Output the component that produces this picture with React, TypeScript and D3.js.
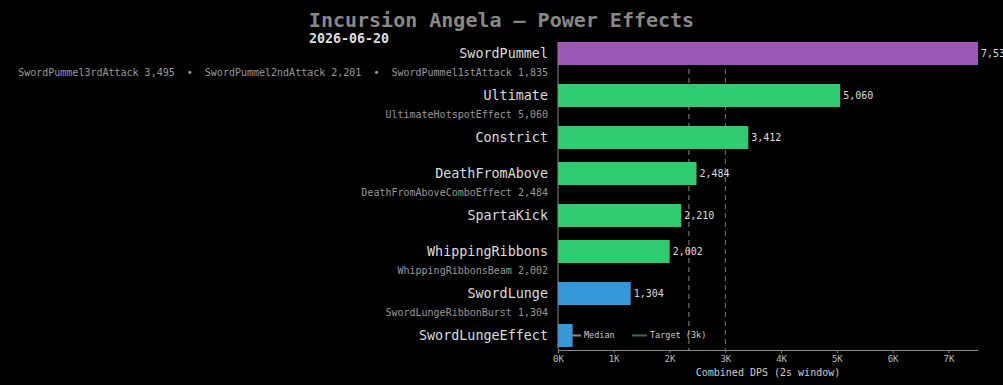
import React, { useEffect, useRef } from 'react';
import * as d3 from 'd3';

const powers = [
  'SwordPummel',
  'Ultimate',
  'Constrict',
  'DeathFromAbove',
  'SpartaKick',
  'WhippingRibbons',
  'SwordLunge',
  'SwordLungeEffect',
];
const dps = [7531, 5060, 3412, 2484, 2210, 2002, 1304, 262];
const groups = ['melee', 'power', 'power', 'power', 'power', 'power', 'lunge', 'lunge'];
const subEffects: string[][] = [
  ['SwordPummel3rdAttack 3,495', 'SwordPummel2ndAttack 2,201', 'SwordPummel1stAttack 1,835'],
  ['UltimateHotspotEffect 5,060'],
  [],
  ['DeathFromAboveComboEffect 2,484'],
  [],
  ['WhippingRibbonsBeam 2,002'],
  ['SwordLungeRibbonBurst 1,304'],
  [],
];
const xTicks = [0, 1000, 2000, 3000, 4000, 5000, 6000, 7000];
const target = 3000;

const groupColor: Record<string, string> = {
  melee: '#9b59b6',
  power: '#2ecc71',
  lunge: '#3498db',
};

const FONT = '"DejaVu Sans Mono", monospace';

const PowerChart = () => {
  const ref = useRef<SVGSVGElement>(null);

  useEffect(() => {
    const width = 1003;
    const height = 385;
    const margin = { top: 42, right: 25, bottom: 35, left: 558 };
    const barH = 23;

    const svg = d3.select(ref.current);
    svg.selectAll('*').remove();

    svg.append('rect').attr('width', width).attr('height', height).attr('fill', '#000');

    // rows with sub-effect lines get a little more room
    const steps = subEffects.map(s => 36 + (s.length ? 6 : 0));
    const offsets = [0, ...Array.from(d3.cumsum(steps)).slice(0, -1)];
    const y = d3.scaleLinear().domain([0, 1]).range([margin.top + barH / 2, margin.top + barH / 2 + 1]);
    const rowY = (i: number) => y(offsets[i]);

    const axisY = height - margin.bottom;
    const x = d3.scaleLinear()
      .domain([0, d3.max(dps) as number])
      .range([margin.left, width - margin.right]);

    // title
    svg.append('text')
      .attr('x', width / 2).attr('y', 27)
      .attr('text-anchor', 'middle')
      .attr('font-family', FONT).attr('font-size', 20).attr('font-weight', 'bold')
      .attr('fill', '#888')
      .text('Incursion Angela — Power Effects');
    svg.append('text')
      .attr('x', 309).attr('y', 43)
      .attr('font-family', FONT).attr('font-size', 13.3).attr('font-weight', 'bold')
      .attr('fill', '#ddd')
      .text('2026-06-20');

    // reference lines
    const med = d3.median(dps) as number;
    svg.append('line')
      .attr('x1', x(med)).attr('x2', x(med))
      .attr('y1', margin.top).attr('y2', axisY)
      .attr('stroke', '#888').attr('stroke-width', 1).attr('stroke-dasharray', '5,4');
    svg.append('line')
      .attr('x1', x(target)).attr('x2', x(target))
      .attr('y1', margin.top).attr('y2', axisY)
      .attr('stroke', '#6f876f').attr('stroke-width', 1).attr('stroke-dasharray', '5,4');

    // legend sits under the bars
    const legY = rowY(powers.length - 1);
    const legend = [
      { label: 'Median', color: '#888', x0: 566 },
      { label: 'Target (3k)', color: '#3e6e3e', x0: 632 },
    ];
    legend.forEach(l => {
      svg.append('line')
        .attr('x1', l.x0).attr('x2', l.x0 + 15)
        .attr('y1', legY).attr('y2', legY)
        .attr('stroke', l.color).attr('stroke-width', 2);
      svg.append('text')
        .attr('x', l.x0 + 18).attr('y', legY)
        .attr('dy', '0.35em')
        .attr('font-family', FONT).attr('font-size', 8.5)
        .attr('fill', '#ccc')
        .text(l.label);
    });

    // bars
    svg.append('g')
      .selectAll('rect')
      .data(dps)
      .join('rect')
      .attr('x', x(0))
      .attr('y', (_, i) => rowY(i) - barH / 2)
      .attr('width', d => x(d) - x(0))
      .attr('height', barH)
      .attr('fill', (_, i) => groupColor[groups[i]]);

    // value labels
    svg.append('g')
      .selectAll('text')
      .data(dps.slice(0, -1))
      .join('text')
      .attr('x', d => x(d) + 3)
      .attr('y', (_, i) => rowY(i))
      .attr('dy', '0.35em')
      .attr('font-family', FONT).attr('font-size', 10)
      .attr('fill', '#ddd')
      .text(d => d3.format(',')(d));

    // category + sub-effect labels
    const labels = svg.append('g').attr('font-family', FONT).attr('text-anchor', 'end');
    powers.forEach((p, i) => {
      labels.append('text')
        .attr('x', margin.left - 10).attr('y', rowY(i))
        .attr('dy', '0.35em')
        .attr('font-size', 13.4)
        .attr('fill', '#ddd')
        .text(p);
      if (subEffects[i].length) {
        labels.append('text')
          .attr('x', margin.left - 10).attr('y', rowY(i) + 22)
          .attr('font-size', 10)
          .attr('fill', '#999')
          .attr('xml:space', 'preserve')
          .text(subEffects[i].join('  •  '));
      }
    });

    // left axis line
    svg.append('line')
      .attr('x1', x(0)).attr('x2', x(0))
      .attr('y1', margin.top).attr('y2', axisY)
      .attr('stroke', '#888');

    // x axis
    const xAxis = svg.append('g')
      .attr('transform', `translate(0,${axisY})`)
      .call(d3.axisBottom(x).tickValues(xTicks).tickSize(3).tickSizeOuter(0)
        .tickFormat(d => `${(d as number) / 1000}K`));
    xAxis.select('.domain').attr('stroke', '#888');
    xAxis.selectAll('.tick line').attr('stroke', '#888');
    xAxis.selectAll('.tick text')
      .attr('fill', '#bbb').attr('font-family', FONT).attr('font-size', 9);

    svg.append('text')
      .attr('x', (x.range()[0] + x.range()[1]) / 2).attr('y', 376)
      .attr('text-anchor', 'middle')
      .attr('font-family', FONT).attr('font-size', 10)
      .attr('fill', '#ccc')
      .text('Combined DPS (2s window)');
  }, []);

  return (
    <svg
      ref={ref}
      width={1003}
      height={385}
      style={{ position: 'absolute', left: 0, top: 0, display: 'block' }}
    />
  );
};

export default function App() {
  return <PowerChart />;
}
